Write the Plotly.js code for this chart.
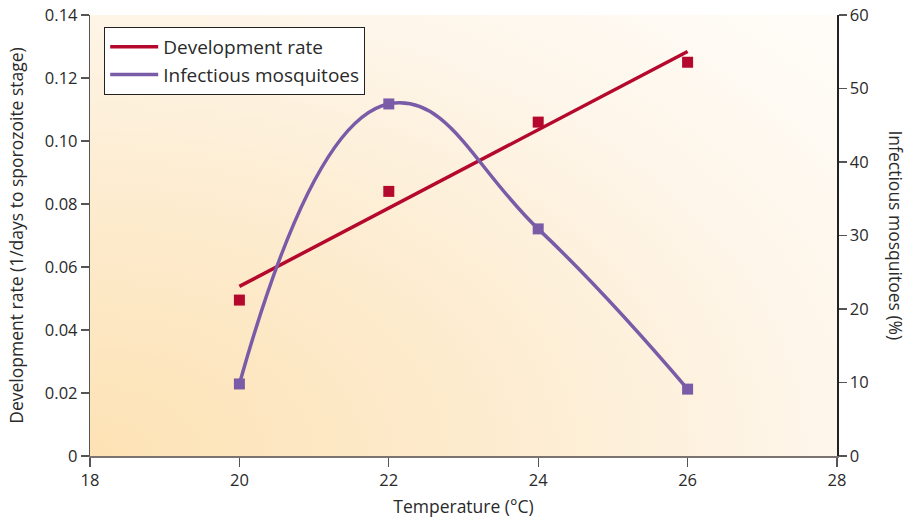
<!DOCTYPE html>
<html>
<head>
<meta charset="utf-8">
<script src="https://cdn.plot.ly/plotly-3.0.1.min.js"></script>
<style>
html,body{margin:0;padding:0;background:#fff;}
#wrap{position:relative;width:908px;height:522px;}
#bg{position:absolute;left:90px;top:15px;width:747px;height:441px;
background:radial-gradient(ellipse 140% 150% at 0% 100%, #fde2b4 0%, #fdecd0 40%, #fef6ea 70%, #fffdfa 100%);}
#chart{position:absolute;left:0;top:0;width:908px;height:522px;}
</style>
</head>
<body>
<div id="wrap"><div id="bg"></div><div id="chart"></div></div>
<script>
const temperature = [20, 22, 24, 26];
const developmentRate = [0.0495, 0.084, 0.106, 0.125];
const infectiousMosquitoes = [9.8, 47.9, 30.9, 9.1];
const xTicks = [18, 20, 22, 24, 26, 28];
const leftTicks = [0, 0.02, 0.04, 0.06, 0.08, 0.10, 0.12, 0.14];
const leftTickLabels = ['0', '0.02', '0.04', '0.06', '0.08', '0.10', '0.12', '0.14'];
const rightTicks = [0, 10, 20, 30, 40, 50, 60];

const red = '#b4082c';
const purple = '#7a5ba8';

// least-squares fit of development rate
const n = temperature.length;
const mx = temperature.reduce((a,b)=>a+b,0)/n;
const my = developmentRate.reduce((a,b)=>a+b,0)/n;
let sxy = 0, sxx = 0;
for (let i=0;i<n;i++){ sxy += (temperature[i]-mx)*(developmentRate[i]-my); sxx += (temperature[i]-mx)**2; }
const slope = sxy/sxx, intercept = my - slope*mx;
const fitX = [temperature[0], temperature[n-1]];
const fitY = fitX.map(x => intercept + slope*x);

const font = '"Open Sans", Lato, sans-serif';

const traces = [
  {x: fitX, y: fitY, mode:'lines', name:'Development rate', line:{color:red, width:3.5}, yaxis:'y', hoverinfo:'skip'},
  {x: temperature, y: infectiousMosquitoes, mode:'lines', name:'Infectious mosquitoes', line:{color:purple, width:3.5, shape:'spline', smoothing:1.3}, yaxis:'y2'},
  {x: temperature, y: developmentRate, mode:'markers', showlegend:false, marker:{symbol:'square', size:11, color:red}, yaxis:'y'},
  {x: temperature, y: infectiousMosquitoes, mode:'markers', showlegend:false, marker:{symbol:'square', size:11, color:purple}, yaxis:'y2'}
];

const layout = {
  width:908, height:522,
  margin:{l:90, r:71, t:15, b:66},
  paper_bgcolor:'rgba(0,0,0,0)', plot_bgcolor:'rgba(0,0,0,0)',
  font:{family:font, size:16, color:'#2a2a2a'},
  showlegend:true,
  legend:{x:0.019, y:0.973, xanchor:'left', yanchor:'top', bgcolor:'#ffffff', bordercolor:'#222', borderwidth:1,
          font:{size:19, color:'#2a2a2a'}, tracegroupgap:0, itemwidth:48},
  xaxis:{range:[18,28], tickvals:xTicks, ticktext:xTicks.map(String), showgrid:false, zeroline:false,
         showline:true, linecolor:'#7a7370', linewidth:1.5, ticks:'outside', ticklen:9, tickcolor:'#555', tickwidth:1.2,
         title:{text:'Temperature (°C)', font:{size:17.5}, standoff:10}, tickfont:{size:16.5}},
  yaxis:{range:[0,0.14], tickvals:leftTicks, ticktext:leftTickLabels, showgrid:false, zeroline:false,
         showline:true, linecolor:'#555', linewidth:1.2, ticks:'outside', ticklen:8, tickcolor:'#555', tickwidth:1.2,
         title:{text:'Development rate (1/days to sporozoite stage)', font:{size:17.5}, standoff:16}, tickfont:{size:16.5}},
  yaxis2:{range:[0,60], tickvals:rightTicks, overlaying:'y', side:'right', showgrid:false, zeroline:false,
          showline:true, linecolor:'#222', linewidth:1.5, ticks:'outside', ticklen:8, tickcolor:'#555', tickwidth:1.2,
          tickfont:{size:16.5}},
  annotations:[{text:'Infectious mosquitoes (%)', xref:'paper', yref:'paper', x:1.079, y:0.5, textangle:90,
                showarrow:false, font:{size:17.5, color:'#2a2a2a'}, xanchor:'center', yanchor:'middle'}]
};

Plotly.newPlot('chart', traces, layout, {displayModeBar:false, staticPlot:true});
</script>
</body>
</html>
